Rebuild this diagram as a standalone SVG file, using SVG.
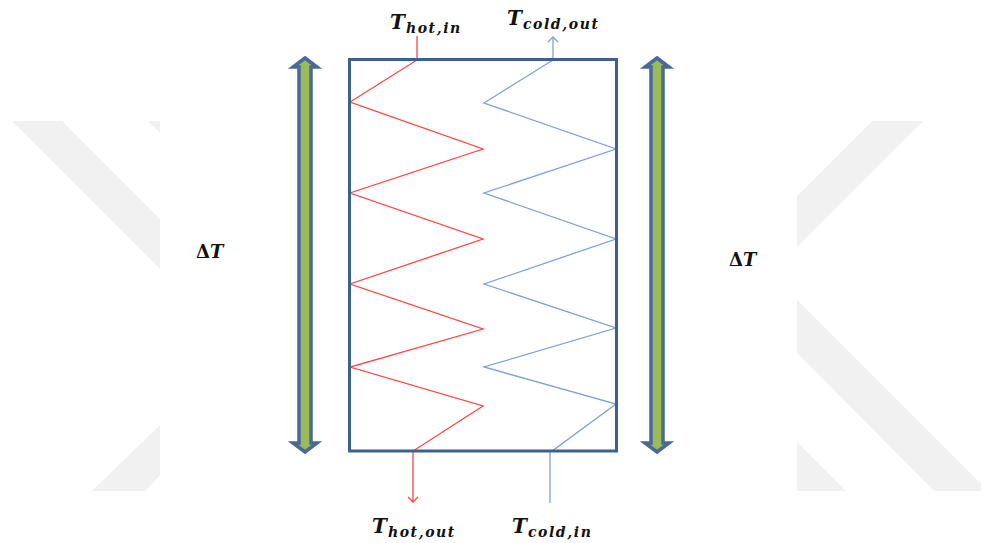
<svg xmlns="http://www.w3.org/2000/svg" width="981" height="543" viewBox="0 0 981 543">
<style>
.wm{fill:#f1f1f1}
.lbl{font-family:"DejaVu Serif","Liberation Serif",serif;font-style:italic;font-weight:bold;fill:#111}
.big{font-size:20px}
.sub{font-size:14px;letter-spacing:1.6px}
.dt{font-family:"DejaVu Serif","Liberation Serif",serif;font-size:18px;font-weight:bold;fill:#111}
.hot{fill:none;stroke:#ff4545;stroke-width:1.3;stroke-linejoin:miter}
.cold{fill:none;stroke:#7fa2d2;stroke-width:1.3}
.dbl{fill:#9bbb59;stroke:#4a6996;stroke-width:3.5;stroke-linejoin:miter}
</style>
<defs>
<marker id="ahot" markerWidth="12" markerHeight="12" refX="6" refY="6" orient="auto" markerUnits="userSpaceOnUse" viewBox="0 0 12 12">
<polyline points="1,1 6,6 1,11" fill="none" stroke="#ff4545" stroke-width="1.3"/>
</marker>
<marker id="acold" markerWidth="12" markerHeight="12" refX="6" refY="6" orient="auto" markerUnits="userSpaceOnUse" viewBox="0 0 12 12">
<polyline points="1,1 6,6 1,11" fill="none" stroke="#7fa2d2" stroke-width="1.3"/>
</marker>
<clipPath id="cl"><rect x="0" y="121" width="160" height="370"/></clipPath>
<clipPath id="cr"><rect x="797" y="121" width="184" height="370"/></clipPath>
</defs>
<rect width="981" height="543" fill="#ffffff"/>
<g id="watermark">
<g clip-path="url(#cl)">
<polygon class="wm" points="12,121 62,121 260,319 210,319 12,121"/>
<polygon class="wm" points="148,121 198,121 300,223 250,223"/>
<polygon class="wm" points="160,425 160,475 145,491 92,491"/>
</g>
<g clip-path="url(#cr)">
<polygon class="wm" points="872,121 923,121 720,324 669,324"/>
<polygon class="wm" points="797,300 1000,503 946,503 797,353"/>
<polygon class="wm" points="797,442 846,491 797,491"/>
</g>
</g>
<g id="connectors">
<polyline class="hot" points="417,36 417,60 350,102 483,149 350,193 483,239 350,284 483,329 350,367 483,406 413,451 413,502" marker-end="url(#ahot)"/>
<polyline class="cold" points="550,503 550,451 552,451 616,404 484,367 616,328 484,284 616,239 484,193 616,149 484,103 553,60 553,37" marker-end="url(#acold)"/>
</g>
<g id="exchanger">
<rect x="349.5" y="59.5" width="267" height="391.5" fill="none" stroke="#3f5f8c" stroke-width="3"/>
</g>
<g id="dT-left-arrow">
<polygon class="dbl" points="305,58 317,67 311,67 311,443 317,443 305,452 293,443 299,443 299,67 293,67"/>
</g>
<g id="dT-right-arrow">
<polygon class="dbl" points="657,58 669,67 663,67 663,443 669,443 657,452 645,443 651,443 651,67 645,67"/>
</g>
<g id="label-hot-in"><text class="lbl" x="390" y="29"><tspan class="big">T</tspan><tspan class="sub" dx="1" dy="4">hot,in</tspan></text></g>
<g id="label-cold-out"><text class="lbl" x="507" y="25"><tspan class="big">T</tspan><tspan class="sub" dx="1" dy="4">cold,out</tspan></text></g>
<g id="label-hot-out"><text class="lbl" x="372" y="533"><tspan class="big">T</tspan><tspan class="sub" dx="1" dy="4">hot,out</tspan></text></g>
<g id="label-cold-in"><text class="lbl" x="512" y="533"><tspan class="big">T</tspan><tspan class="sub" dx="1" dy="4">cold,in</tspan></text></g>
<g id="label-dT-left"><text class="dt" x="196" y="258">Δ<tspan font-style="italic">T</tspan></text></g>
<g id="label-dT-right"><text class="dt" x="729" y="266">Δ<tspan font-style="italic">T</tspan></text></g>
</svg>
